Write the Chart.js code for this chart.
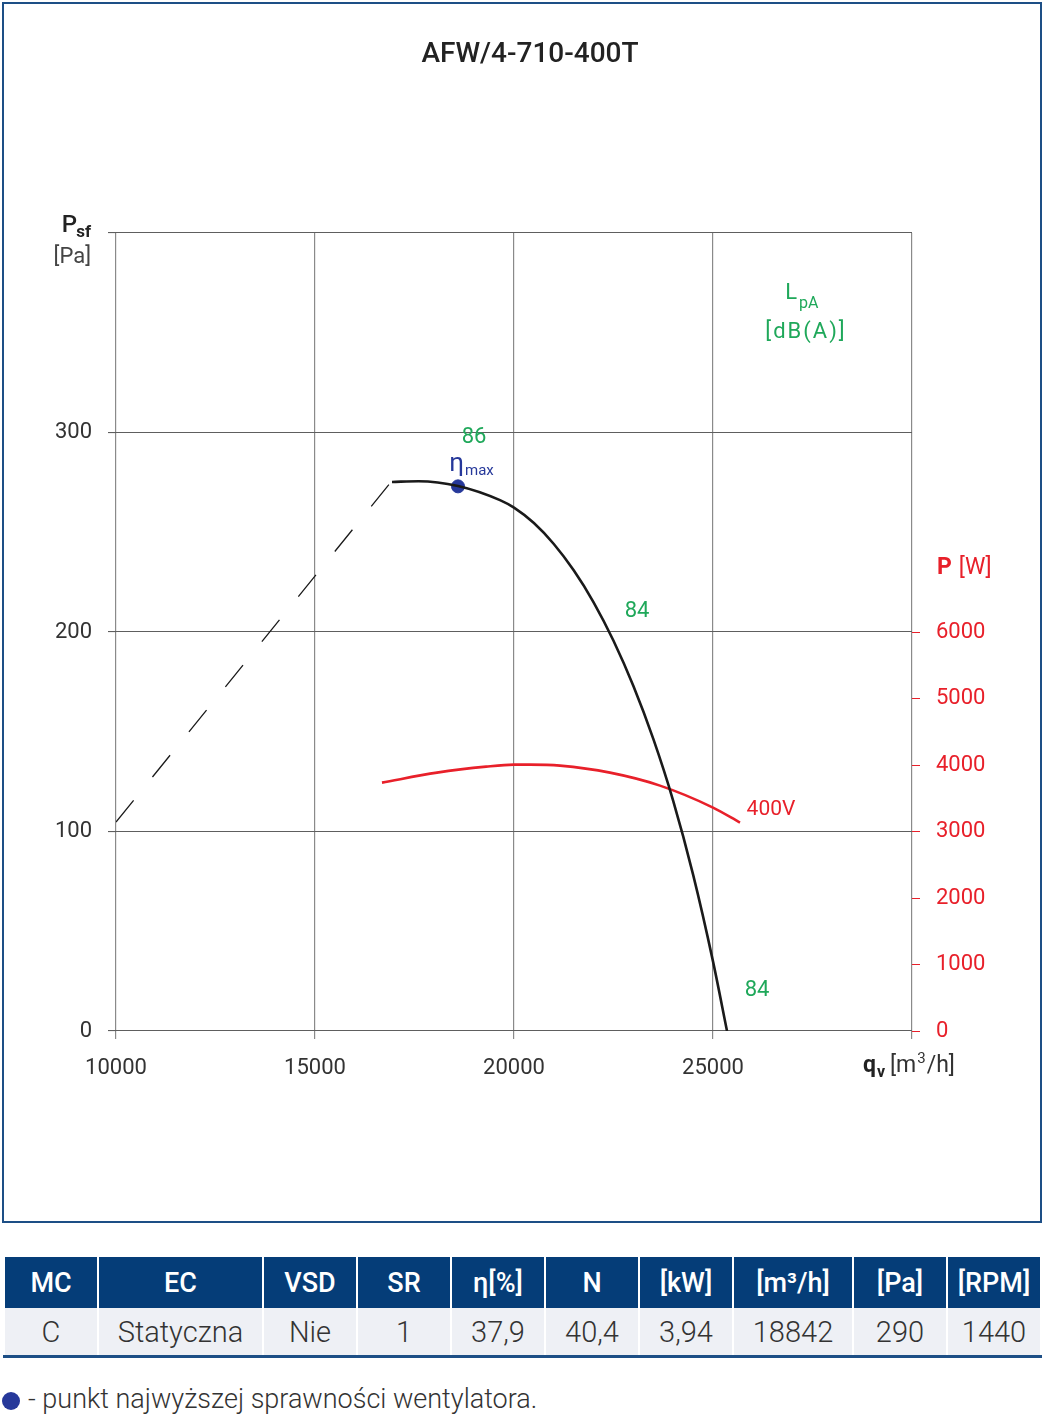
<!DOCTYPE html>
<html>
<head>
<meta charset="utf-8">
<script src="https://cdn.jsdelivr.net/npm/chart.js@4/dist/chart.umd.min.js"></script>
<style>
  body { margin: 0; background: #fff; font-family: Roboto, "Noto Sans", sans-serif; }
  #wrap { position: relative; width: 1045px; height: 1415px; }
  #frame { position: absolute; left: 2px; top: 2px; width: 1036px; height: 1217px; border: 2px solid #1d4f86; pointer-events: none; }
  #chart { position: absolute; left: 0; top: 0; }
  table { position: absolute; left: 3px; top: 1257px; width: 1037px; border-collapse: collapse; table-layout: fixed; }
  th { background: #053d78; color: #fff; font-weight: 500; font-size: 27px; height: 51px; border-left: 2px solid #fff; border-right: 2px solid #fff; padding: 0; }
  td { background: #eef0f5; color: #333; font-size: 29px; font-weight: 300; height: 47px; text-align: center; border-left: 2px solid #fff; border-right: 2px solid #fff; border-bottom: 3px solid #1d4f86; padding: 0; }
  #note { position: absolute; left: 0; top: 1383px; font-size: 27px; font-weight: 300; color: #333; }
  #note span.dot { display: inline-block; width: 18px; height: 18px; border-radius: 50%; background: #26389a; vertical-align: -2px; margin-left: 2px; margin-right: 8px; }
</style>
</head>
<body>
<div id="wrap">
  <canvas id="chart" width="1045" height="1225"></canvas>
  <div id="frame"></div>
  <table>
    <colgroup>
      <col style="width:94px"><col style="width:165px"><col style="width:94px"><col style="width:94px"><col style="width:94px">
      <col style="width:94px"><col style="width:94px"><col style="width:120px"><col style="width:94px"><col style="width:94px">
    </colgroup>
    <tr id="head"></tr>
    <tr id="body"></tr>
  </table>
  <div id="note"><span class="dot"></span>- punkt najwyższej sprawności wentylatora.</div>
</div>
<script>
// fan curve  qv [m3/h] -> Psf [Pa]
const curveQ = [16935, 17600, 18593, 19648, 20000, 20500, 21000, 21500, 22000, 22500, 23000, 23500, 24000, 24500, 25000, 25352];
const curveP = [275.2, 275.6, 273.2, 266.1, 262.3, 254.6, 244.1, 230.9, 214.9, 195.6, 172.9, 146.4, 115.4, 78.4, 34.9, 0];

// unstable part (dashed)
const stallQ = [10000, 16910];
const stallP = [104.7, 275.2];

// power 400V  qv -> P [W]
const powerQ = [16683, 18065, 19300, 20000, 20400, 21156, 22412, 23668, 25000, 25678];
const powerW = [3735, 3885, 3975, 4005, 4005, 3990, 3885, 3690, 3360, 3135];

// max efficiency point
const etaQ = 18593;
const etaP = 273.0;

const xTicks = [10000, 15000, 20000, 25000];
const yTicks = [0, 100, 200, 300];
const pTicks = [0, 1000, 2000, 3000, 4000, 5000, 6000];

const tableHead = ['MC', 'EC', 'VSD', 'SR', 'η[%]', 'N', '[kW]', '[m³/h]', '[Pa]', '[RPM]'];
const tableRow = ['C', 'Statyczna', 'Nie', '1', '37,9', '40,4', '3,94', '18842', '290', '1440'];

document.getElementById('head').innerHTML = tableHead.map(t => '<th>' + t + '</th>').join('');
document.getElementById('body').innerHTML = tableRow.map(t => '<td>' + t + '</td>').join('');

const pts = (xs, ys) => xs.map((x, i) => ({ x: x, y: ys[i] }));

const GREEN = '#1fa85a';
const RED = '#e8202a';
const NAVY = '#26389a';
const FONT = 'Roboto, "Noto Sans", sans-serif';

const textPlugin = {
  id: 'texts',
  afterDraw(chart) {
    const c = chart.ctx;
    c.save();
    c.textBaseline = 'middle';
    const t = (s, x, y, size, color, align, weight) => {
      c.font = (weight || 400) + ' ' + size + 'px ' + FONT;
      c.fillStyle = color;
      c.textAlign = align || 'center';
      c.fillText(s, x, y);
      return c.measureText(s).width;
    };
    t('AFW/4-710-400T', 530, 55, 28, '#222', 'center', 500);
    // axis titles
    t('P', 77, 226, 24, '#222', 'right', 500);
    t('sf', 91, 233, 17, '#222', 'right', 700);
    t('[Pa]', 91, 257, 22, '#444', 'right');
    t('q', 876, 1066, 23, '#222', 'right', 700);
    t('v', 885, 1073, 16, '#222', 'right', 700);
    let x = 890;
    x += t('[m', x, 1066, 23, '#333', 'left') + 1;
    x += t('3', x, 1059, 15, '#333', 'left') + 1;
    t('/h]', x, 1066, 23, '#333', 'left');
    const pw = t('P', 937, 568, 23, RED, 'left', 700);
    t('[W]', 937 + pw + 7, 568, 23, RED, 'left');
    // sound labels
    t('L', 797, 293, 22, GREEN, 'right');
    t('pA', 799, 304, 16, GREEN, 'left');
    c.save();
    c.font = '400 22px ' + FONT;
    c.fillStyle = GREEN;
    c.textAlign = 'center';
    if ('letterSpacing' in c) c.letterSpacing = '2px';
    c.fillText('[dB(A)]', 806, 332);
    c.restore();
    t('86', 474, 437, 22, GREEN);
    t('84', 637, 611, 22, GREEN);
    t('84', 757, 990, 22, GREEN);
    t('400V', 771, 810, 21, RED);
    t('η', 464, 464, 26, NAVY, 'right');
    t('max', 465, 471, 15, NAVY, 'left');
    c.restore();
  }
};

new Chart(document.getElementById('chart').getContext('2d'), {
  type: 'scatter',
  data: {
    datasets: [
      {
        label: 'Psf',
        data: pts(curveQ, curveP),
        showLine: true,
        borderColor: '#1a1a1a',
        borderWidth: 2.6,
        pointRadius: 0,
        cubicInterpolationMode: 'monotone',
        yAxisID: 'y'
      },
      {
        label: 'stall',
        data: pts(stallQ, stallP),
        showLine: true,
        borderColor: '#1a1a1a',
        borderWidth: 1.3,
        borderDash: [28, 30],
        pointRadius: 0,
        yAxisID: 'y'
      },
      {
        label: '400V',
        data: pts(powerQ, powerW),
        showLine: true,
        borderColor: RED,
        borderWidth: 2.6,
        pointRadius: 0,
        cubicInterpolationMode: 'monotone',
        yAxisID: 'p'
      },
      {
        label: 'eta max',
        data: [{ x: etaQ, y: etaP }],
        pointRadius: 6.5,
        pointBackgroundColor: NAVY,
        pointBorderColor: NAVY,
        yAxisID: 'y'
      }
    ]
  },
  options: {
    responsive: false,
    animation: false,
    layout: { padding: { top: 233, left: 0, right: 0, bottom: 0 } },
    plugins: {
      legend: { display: false },
      tooltip: { enabled: false },
      title: { display: false }
    },
    scales: {
      x: {
        type: 'linear',
        min: 10000,
        max: 30000,
        afterBuildTicks: s => { s.ticks = [10000, 15000, 20000, 25000, 30000].map(v => ({ value: v })); },
        afterFit: s => { s.height = 194; },
        ticks: {
          callback: v => xTicks.includes(v) ? String(v) : '',
          color: '#333',
          font: { family: FONT, size: 22 },
          padding: 16,
          maxRotation: 0
        },
        grid: { color: '#8a8a8a', lineWidth: 1.2, tickLength: 8 },
        border: { display: false }
      },
      y: {
        position: 'left',
        min: 0,
        max: 400,
        afterBuildTicks: s => { s.ticks = [0, 100, 200, 300, 400].map(v => ({ value: v })); },
        afterFit: s => { s.width = 116; },
        ticks: {
          callback: v => yTicks.includes(v) ? String(v) : '',
          color: '#333',
          font: { family: FONT, size: 22 },
          padding: 16
        },
        grid: { color: '#5e5e5e', lineWidth: 1.1, tickLength: 8 },
        border: { display: false }
      },
      p: {
        position: 'right',
        min: 0,
        max: 12000,
        afterBuildTicks: s => { s.ticks = pTicks.map(v => ({ value: v })); },
        afterFit: s => { s.width = 133; },
        ticks: {
          callback: v => String(v),
          color: RED,
          font: { family: FONT, size: 22 },
          padding: 16
        },
        grid: { drawOnChartArea: false, color: RED, lineWidth: 1, tickLength: 8 },
        border: { display: false }
      }
    }
  },
  plugins: [textPlugin]
});
</script>
</body>
</html>
